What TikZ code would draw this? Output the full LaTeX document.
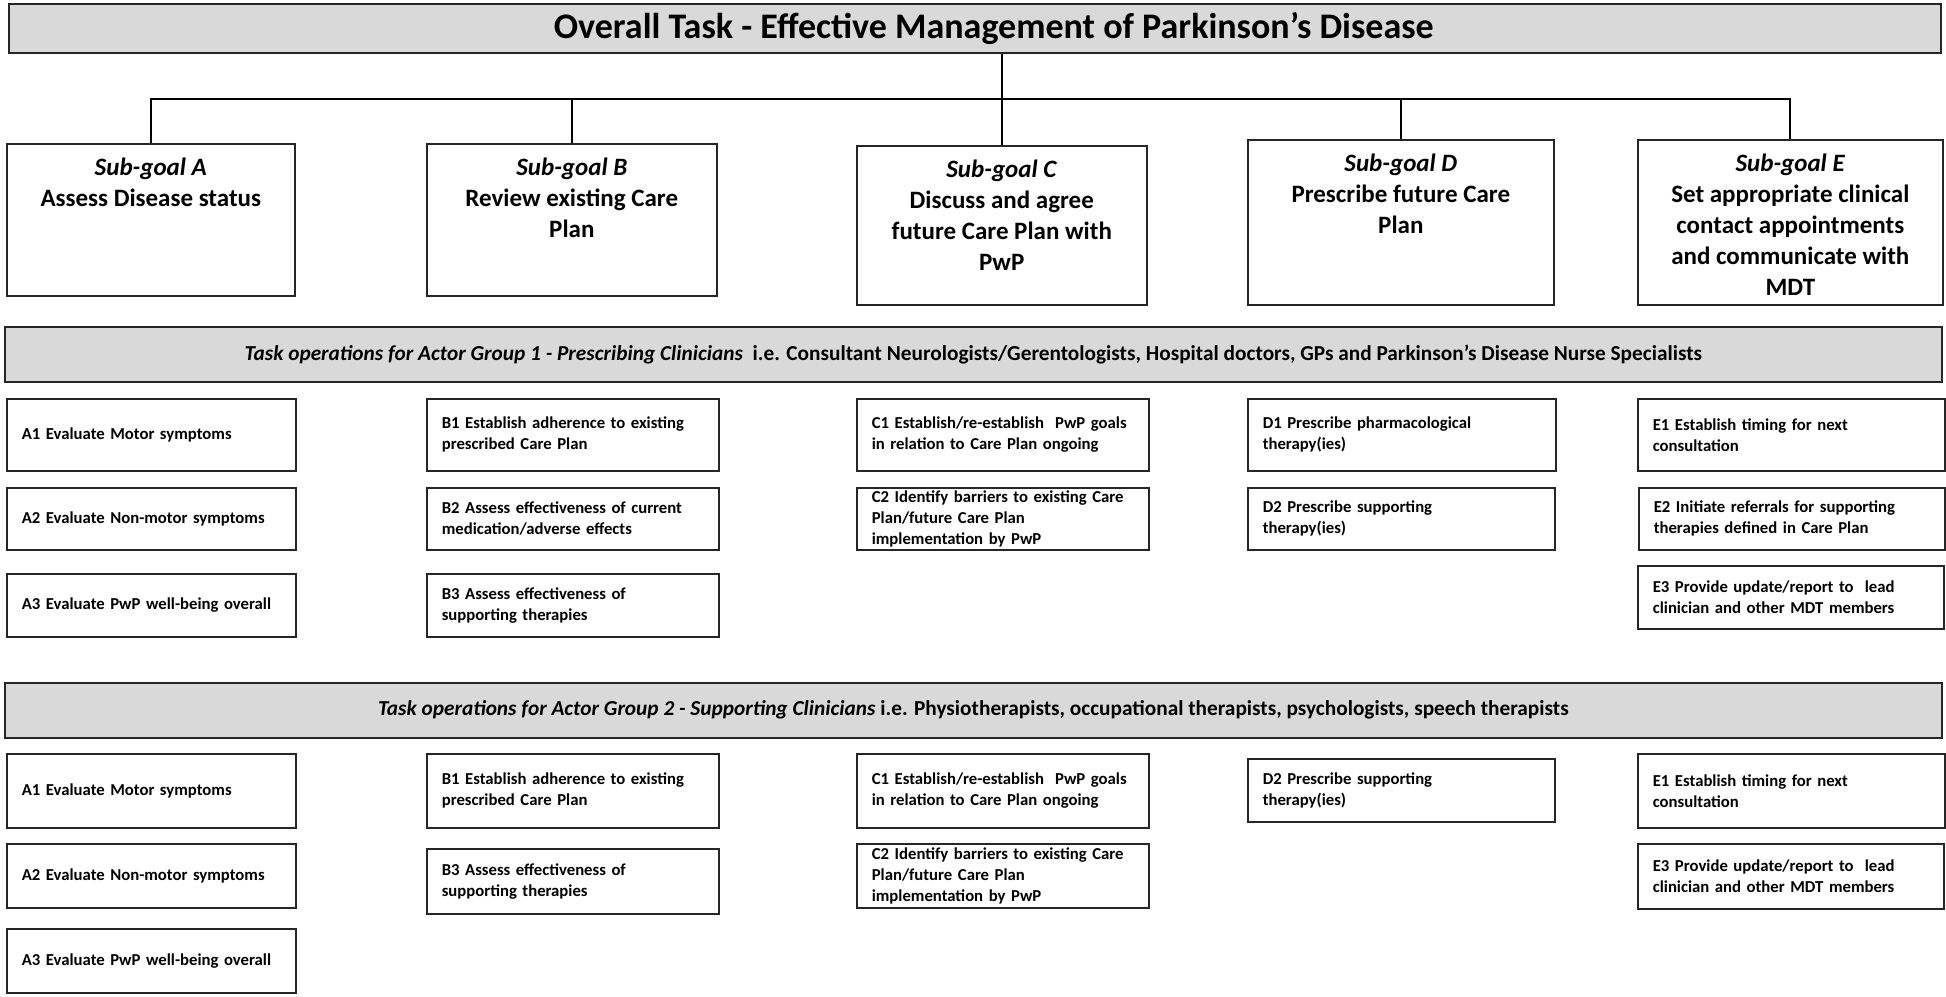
\documentclass[tikz,border=0pt]{standalone}
\usepackage{fontspec}
\setmainfont{Carlito}
\usetikzlibrary{positioning}
\begin{document}
\begin{tikzpicture}[x=1pt,y=1pt,
  boxline/.style={draw=black!85, line width=1.6pt},
  band/.style={boxline, fill=black!15, anchor=north west, inner sep=0pt},
  taskbox/.style={boxline, fill=white, anchor=north west, inner xsep=15pt, inner ysep=0pt, align=left,
     font=\fontsize{16.7}{21}\selectfont\bfseries},
  sgbox/.style={boxline, fill=white, anchor=north west, inner sep=0pt},
  sgtext/.style={anchor=north, inner sep=0pt, align=center, font=\fontsize{25}{31}\selectfont\bfseries},
  link/.style={draw=black, line width=1.8pt}]
\useasboundingbox (0,0) rectangle (1946,-996);

\newcommand\tb[6]{%
  \pgfmathsetmacro\tbw{#4-28}%
  \node[taskbox, minimum width=#4pt, minimum height=#5pt, text width=\tbw pt] (#1) at (#2,-#3) {#6};}
\newcommand\sg[7]{%
  \node[sgbox, minimum width=#4pt, minimum height=#5pt] (#1) at (#2,-#3) {};
  \node[sgtext] (#1t) at ([yshift=-15pt]#1.north) {\textit{#6}\\#7};}

% overall task
\node[band, minimum width=1932pt, minimum height=49pt] (top) at (8,-3) {};
\node[font=\fontsize{36}{40}\selectfont\bfseries] (toptext) at ([xshift=19pt]top.center) {Overall Task - Effective Management of Parkinson’s Disease};

% sub-goals
\sg{sgA}{6}{143}{288}{152}{Sub-goal A}{Assess Disease status}
\sg{sgB}{426}{143}{290}{152}{Sub-goal B}{Review existing Care\\Plan}
\sg{sgC}{856}{145}{290}{159}{Sub-goal C}{Discuss and agree\\future Care Plan with\\PwP}
\sg{sgD}{1247}{139}{306}{165}{Sub-goal D}{Prescribe future Care\\Plan}
\sg{sgE}{1637}{139}{305}{165}{Sub-goal E}{Set appropriate clinical\\contact appointments\\and communicate with\\MDT}

% connectors
\coordinate (bus) at (0,-99);
\draw[link] (sgC.north) -- (sgC.north |- top.south);
\draw[link] (sgA.north) -- (sgA.north |- bus) -- (sgE.north |- bus) -- (sgE.north);
\draw[link] (sgB.north) -- (sgB.north |- bus);
\draw[link] (sgD.north) -- (sgD.north |- bus);

% actor group 1
\node[band, minimum width=1937pt, minimum height=55pt] (band1) at (4,-326) {};
\node[font=\fontsize{21.3}{26}\selectfont\bfseries] (band1text) at (band1.center) {\textit{Task operations for Actor Group 1 - Prescribing Clinicians}\ \ i.e. Consultant Neurologists/Gerentologists, Hospital doctors, GPs and Parkinson’s Disease Nurse Specialists};

\tb{gA1}{6}{398}{287}{72}{A1 Evaluate Motor symptoms}
\tb{gA2}{6}{487}{287}{62}{A2 Evaluate Non-motor symptoms}
\tb{gA3}{6}{573}{287}{63}{A3 Evaluate PwP well-being overall}
\tb{gB1}{426}{398}{290}{72}{B1 Establish adherence to existing\\prescribed Care Plan}
\tb{gB2}{426}{487}{290}{62}{B2 Assess effectiveness of current\\medication/adverse effects}
\tb{gB3}{426}{573}{290}{63}{B3 Assess effectiveness of\\supporting therapies}
\tb{gC1}{856}{398}{290}{72}{C1 Establish/re-establish\ \ PwP goals\\in relation to Care Plan ongoing}
\tb{gC2}{856}{487}{290}{62}{C2 Identify barriers to existing Care\\Plan/future Care Plan\\implementation by PwP}
\tb{gD1}{1247}{398}{306}{72}{D1 Prescribe pharmacological\\therapy(ies)}
\tb{gD2}{1247}{487}{305}{62}{D2 Prescribe supporting\\therapy(ies)}
\tb{gE1}{1637}{398}{305}{72}{E1 Establish timing for next\\consultation}
\tb{gE2}{1638}{487}{304}{62}{E2 Initiate referrals for supporting\\therapies defined in Care Plan}
\tb{gE3}{1637}{565}{304}{63}{E3 Provide update/report to\ \ lead\\clinician and other MDT members}

% actor group 2
\node[band, minimum width=1937pt, minimum height=55pt] (band2) at (4,-682) {};
\node[font=\fontsize{21.3}{26}\selectfont\bfseries] (band2text) at (band2.center) {\textit{Task operations for Actor Group 2 - Supporting Clinicians} i.e. Physiotherapists, occupational therapists, psychologists, speech therapists};

\tb{hA1}{6}{753}{287}{74}{A1 Evaluate Motor symptoms}
\tb{hA2}{6}{843}{287}{64}{A2 Evaluate Non-motor symptoms}
\tb{hA3}{6}{928}{287}{64}{A3 Evaluate PwP well-being overall}
\tb{hB1}{426}{753}{290}{74}{B1 Establish adherence to existing\\prescribed Care Plan}
\tb{hB3}{426}{848}{290}{65}{B3 Assess effectiveness of\\supporting therapies}
\tb{hC1}{856}{753}{290}{74}{C1 Establish/re-establish\ \ PwP goals\\in relation to Care Plan ongoing}
\tb{hC2}{856}{843}{290}{64}{C2 Identify barriers to existing Care\\Plan/future Care Plan\\implementation by PwP}
\tb{hD2}{1247}{758}{305}{63}{D2 Prescribe supporting\\therapy(ies)}
\tb{hE1}{1637}{753}{305}{74}{E1 Establish timing for next\\consultation}
\tb{hE3}{1637}{843}{304}{65}{E3 Provide update/report to\ \ lead\\clinician and other MDT members}
\end{tikzpicture}
\end{document}
